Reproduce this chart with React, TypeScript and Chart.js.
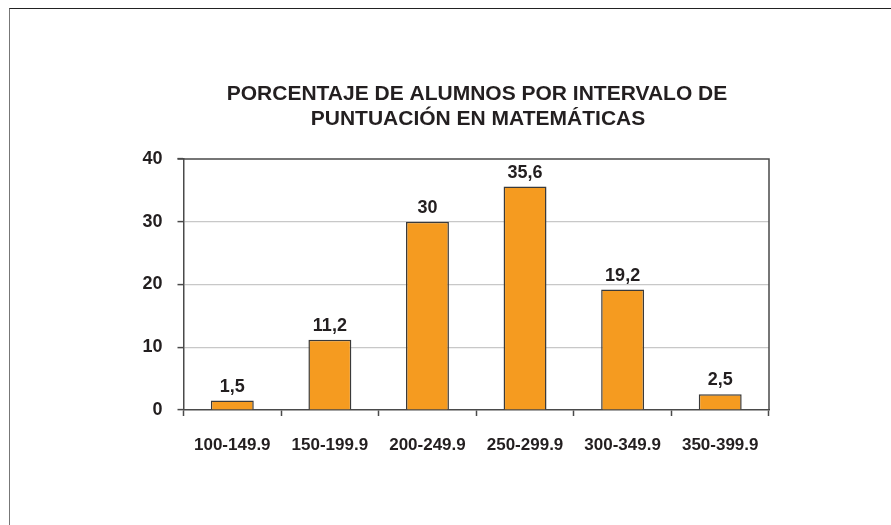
import React, { useEffect, useRef } from "react";
import { Chart, registerables } from "chart.js";

Chart.register(...registerables);

const titleLines = ["PORCENTAJE DE ALUMNOS POR INTERVALO DE", "PUNTUACIÓN EN MATEMÁTICAS"];
const categories = ["100-149.9", "150-199.9", "200-249.9", "250-299.9", "300-349.9", "350-399.9"];
const percentages = [1.5, 11.2, 30, 35.6, 19.2, 2.5];
const yTicks = [0, 10, 20, 30, 40];

const TEXT = "#231f20";
const AXIS = "#4a4a4a";
const narrow = "'Liberation Sans Narrow', 'Liberation Sans', Arial, sans-serif";
const wide = "'Liberation Sans', Arial, sans-serif";

export default function App() {
  const ref = useRef<HTMLCanvasElement | null>(null);
  useEffect(() => {
    const canvas = ref.current;
    if (!canvas) return;
    const fmt = (v: number) => String(v).replace(".", ",");
    const extras = {
      id: "extras",
      afterDatasetsDraw(chart: any) {
        const ctx = chart.ctx;
        const area = chart.chartArea;
        ctx.save();
        ctx.strokeStyle = AXIS;
        ctx.lineWidth = 1.5;
        ctx.beginPath();
        ctx.moveTo(area.left - 6, area.top);
        ctx.lineTo(area.right, area.top);
        ctx.lineTo(area.right, area.bottom);
        ctx.stroke();
        ctx.fillStyle = TEXT;
        ctx.font = `bold 18px ${narrow}`;
        ctx.textAlign = "center";
        ctx.textBaseline = "alphabetic";
        const meta = chart.getDatasetMeta(0);
        meta.data.forEach((bar: any, i: number) => {
          ctx.fillText(fmt(percentages[i]), bar.x, bar.y - 9);
        });
        ctx.font = `bold 21px ${wide}`;
        ctx.fillText(titleLines[0], 477, 100);
        ctx.fillText(titleLines[1], 478, 125);
        ctx.restore();
      },
    };
    const chart = new Chart(canvas, {
      type: "bar",
      data: {
        labels: categories,
        datasets: [
          {
            data: percentages,
            backgroundColor: "#f59b20",
            borderColor: "#3a3a3a",
            borderWidth: 1.5,
            categoryPercentage: 1,
            barPercentage: 0.44,
          },
        ],
      },
      options: {
        animation: false,
        responsive: false,
        events: [],
        layout: { padding: { left: 0, top: 159, right: 122, bottom: 55 } },
        plugins: { legend: { display: false }, title: { display: false }, tooltip: { enabled: false } },
        scales: {
          x: {
            afterFit: (s: any) => {
              s.height = 60;
            },
            border: { color: AXIS, width: 1.5 },
            grid: { drawOnChartArea: false, drawTicks: true, tickLength: 6, tickColor: AXIS, tickWidth: 1.5, offset: true },
            ticks: { color: TEXT, font: { family: narrow, size: 17, weight: "bold" }, padding: 19, maxRotation: 0 },
          },
          y: {
            min: 0,
            max: 40,
            afterFit: (s: any) => {
              s.width = 183.5;
            },
            afterBuildTicks: (s: any) => {
              s.ticks = yTicks.map((v) => ({ value: v }));
            },
            border: { color: AXIS, width: 1.5 },
            grid: {
              color: (c: any) => (c.tick && (c.tick.value === 0 || c.tick.value === 40) ? "rgba(0,0,0,0)" : "#c8c8c8"),
              lineWidth: 1.2,
              drawTicks: true,
              tickLength: 6,
              tickColor: AXIS,
              tickWidth: 1.5,
            },
            ticks: { color: TEXT, font: { family: narrow, size: 18, weight: "bold" }, padding: 15 },
          },
        },
      },
      plugins: [extras],
    });
    return () => chart.destroy();
  }, []);
  return (
    <div style={{ position: "fixed", left: 0, top: 0, width: 891, height: 525, background: "#fff" }}>
      <div
        style={{
          position: "absolute",
          left: 9,
          top: 8,
          right: 0,
          bottom: -2,
          borderLeft: "1.5px solid #777",
          borderTop: "1.5px solid #222",
        }}
      />
      <canvas ref={ref} width={891} height={525} style={{ position: "absolute", left: 0, top: 0, width: 891, height: 525 }} />
    </div>
  );
}
